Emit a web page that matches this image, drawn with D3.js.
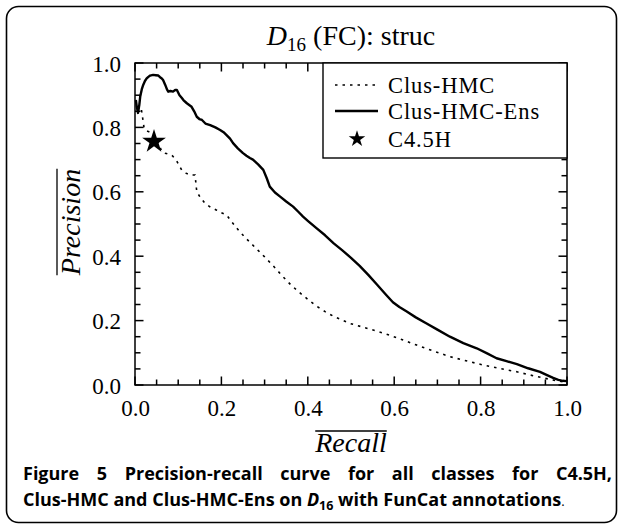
<!DOCTYPE html>
<html><head><meta charset="utf-8">
<script src="https://cdn.jsdelivr.net/npm/d3@7"></script>
<style>
html,body{margin:0;padding:0;background:#fff;}
svg{display:block;}
</style></head>
<body>
<svg id="chart" width="624" height="527"></svg>
<script>
// ---- data ----
const ensRecall = [0.002,0.004,0.007,0.010,0.012,0.016,0.019,0.023,0.027,0.031,0.035,0.042,0.048,0.054,0.058,0.062,0.065,0.070,0.074,0.077,0.082,0.088,0.093,0.097,0.103,0.108,0.112,0.120,0.127,0.131,0.137,0.143,0.149,0.155,0.163,0.174,0.186,0.197,0.205,0.212,0.220,0.227,0.238,0.250,0.258,0.266,0.273,0.285,0.297,0.305,0.312,0.324,0.336,0.350,0.366,0.378,0.389,0.400,0.420,0.440,0.460,0.480,0.500,0.520,0.540,0.560,0.580,0.597,0.612,0.629,0.650,0.675,0.700,0.729,0.760,0.791,0.815,0.837,0.860,0.884,0.910,0.9375,0.955,0.968,0.980,0.990,1.000];
const ensPrecision = [0.885,0.865,0.845,0.870,0.895,0.920,0.932,0.944,0.952,0.957,0.961,0.963,0.962,0.961,0.956,0.952,0.947,0.932,0.918,0.911,0.913,0.911,0.916,0.916,0.900,0.892,0.885,0.875,0.868,0.864,0.850,0.833,0.826,0.823,0.812,0.807,0.800,0.792,0.785,0.776,0.765,0.751,0.735,0.720,0.712,0.705,0.700,0.685,0.668,0.642,0.616,0.598,0.585,0.570,0.554,0.538,0.523,0.510,0.487,0.465,0.440,0.418,0.395,0.370,0.342,0.312,0.282,0.257,0.242,0.228,0.210,0.191,0.172,0.150,0.130,0.114,0.098,0.083,0.074,0.065,0.052,0.041,0.030,0.022,0.016,0.013,0.012];
const hmcRecall = [0.015,0.017,0.019,0.021,0.026,0.031,0.040,0.050,0.056,0.062,0.070,0.085,0.095,0.102,0.108,0.118,0.127,0.139,0.143,0.150,0.162,0.175,0.189,0.200,0.212,0.225,0.240,0.255,0.270,0.285,0.300,0.320,0.340,0.360,0.380,0.400,0.420,0.440,0.460,0.480,0.498,0.540,0.575,0.610,0.652,0.690,0.729,0.770,0.806,0.845,0.884,0.915,0.945,0.970,0.990,1.000];
const hmcPrecision = [0.854,0.835,0.818,0.798,0.790,0.787,0.782,0.765,0.745,0.725,0.720,0.714,0.700,0.682,0.668,0.658,0.652,0.652,0.600,0.585,0.564,0.552,0.543,0.535,0.528,0.505,0.480,0.458,0.438,0.418,0.398,0.370,0.340,0.312,0.288,0.266,0.245,0.228,0.213,0.201,0.191,0.175,0.161,0.145,0.124,0.106,0.088,0.074,0.062,0.051,0.041,0.031,0.022,0.015,0.010,0.008];
const c45Recall = [0.044];
const c45Precision = [0.756];
const seriesNames = ["Clus-HMC","Clus-HMC-Ens","C4.5H"];
const majorTicks = [0.0,0.2,0.4,0.6,0.8,1.0];
const minorTicks = [0.05,0.1,0.15,0.25,0.3,0.35,0.45,0.5,0.55,0.65,0.7,0.75,0.85,0.9,0.95];

// ---- layout ----
const svg = d3.select("#chart");
const L=135, R=567, T=63, B=385;
const xs = d3.scaleLinear().domain([0,1]).range([L,R]);
const ys = d3.scaleLinear().domain([0,1]).range([B,T]);
const serif = "'Liberation Serif', 'DejaVu Serif', serif";

// outer rounded frame
svg.append("rect").attr("x",6.5).attr("y",6.5).attr("width",610).attr("height",516)
  .attr("rx",12).attr("ry",12).attr("fill","none").attr("stroke","#000").attr("stroke-width",1.6);

// title
const title = svg.append("text").attr("x",351).attr("y",45).attr("text-anchor","middle")
  .attr("font-family",serif).attr("font-size",28);
title.append("tspan").attr("font-style","italic").text("D");
title.append("tspan").attr("font-size",19).attr("dy",6).text("16");
title.append("tspan").attr("dy",-6).text(" (FC): struc");

// lines
const line = d3.line().x(d=>xs(d[0])).y(d=>ys(d[1]));
const ensData = ensRecall.map((r,i)=>[r,ensPrecision[i]]);
const hmcData = hmcRecall.map((r,i)=>[r,hmcPrecision[i]]);
svg.append("path").datum(hmcData).attr("d",line).attr("fill","none").attr("stroke","#000")
  .attr("stroke-width",1.6).attr("stroke-dasharray","2.5,5");
svg.append("path").datum(ensData).attr("d",line).attr("fill","none").attr("stroke","#000")
  .attr("stroke-width",2.4).attr("stroke-linejoin","round");
svg.selectAll(".star").data(c45Recall.map((r,i)=>[r,c45Precision[i]])).join("path")
  .attr("class","star").attr("d",d3.symbol(d3.symbolStar,175))
  .attr("transform",d=>`translate(${xs(d[0])},${ys(d[1])})`).attr("fill","#000");

// plot frame
svg.append("rect").attr("x",L).attr("y",T).attr("width",R-L).attr("height",B-T)
  .attr("fill","none").attr("stroke","#000").attr("stroke-width",1.5);

// ticks (inward, all four sides), drawn from the scales
function addTicks(vals, len){
  const g = svg.append("g").attr("fill","#000");
  g.selectAll(".tb").data(vals).join("rect").attr("class","tb")
    .attr("x",d=>xs(d)-0.75).attr("y",B-len).attr("width",1.5).attr("height",len);
  g.selectAll(".tt").data(vals).join("rect").attr("class","tt")
    .attr("x",d=>xs(d)-0.75).attr("y",T).attr("width",1.5).attr("height",len);
  g.selectAll(".tl").data(vals).join("rect").attr("class","tl")
    .attr("x",L).attr("y",d=>ys(d)-0.75).attr("width",len).attr("height",1.5);
  g.selectAll(".tr").data(vals).join("rect").attr("class","tr")
    .attr("x",R-len).attr("y",d=>ys(d)-0.75).attr("width",len).attr("height",1.5);
}
addTicks(minorTicks,5.5);
addTicks(majorTicks,8.5);

// tick labels via axes
function fmt(d){return d3.format(".1f")(d);}
const xb = svg.append("g").attr("transform",`translate(0,${B})`)
  .call(d3.axisBottom(xs).tickValues(majorTicks).tickSize(0).tickPadding(14).tickFormat(fmt));
const yl = svg.append("g").attr("transform",`translate(${L},0)`)
  .call(d3.axisLeft(ys).tickValues(majorTicks).tickSize(0).tickPadding(14).tickFormat(fmt));
xb.select(".domain").remove();
yl.select(".domain").remove();
xb.selectAll(".tick line").remove();
yl.selectAll(".tick line").remove();
svg.selectAll(".tick text").attr("font-size",23).attr("fill","#000").attr("font-family",serif);
xb.selectAll(".tick text").attr("dy",0).attr("y",31);
yl.selectAll(".tick text").attr("dy","0.35em").attr("x",-14);

// legend
const lg = svg.append("g");
lg.append("rect").attr("x",323).attr("y",T).attr("width",R-323).attr("height",95)
  .attr("fill","#fff").attr("stroke","#000").attr("stroke-width",1.4);
const legY = [85,111,139];
lg.append("line").attr("x1",335).attr("x2",378).attr("y1",legY[0]).attr("y2",legY[0])
  .attr("stroke","#000").attr("stroke-width",1.6).attr("stroke-dasharray","2.5,5");
lg.append("line").attr("x1",335).attr("x2",378).attr("y1",legY[1]).attr("y2",legY[1])
  .attr("stroke","#000").attr("stroke-width",2.4);
lg.append("path").attr("d",d3.symbol(d3.symbolStar,85)).attr("transform",`translate(357,${legY[2]})`);
lg.selectAll(".lt").data(seriesNames).join("text").attr("class","lt")
  .attr("x",388).attr("y",(d,i)=>legY[i]+8).attr("font-family",serif).attr("font-size",22.5)
  .attr("letter-spacing",0.9).text(d=>d);

// axis titles
const xt = svg.append("text").attr("x",351).attr("y",452).attr("text-anchor","middle")
  .attr("font-family",serif).attr("font-style","italic").attr("font-size",28).text("Recall");
const xw = xt.node().getComputedTextLength();
svg.append("line").attr("x1",351-xw/2).attr("x2",351+xw/2).attr("y1",431).attr("y2",431).attr("stroke","#000").attr("stroke-width",1.3);
const yt = svg.append("text").attr("transform","translate(80,222) rotate(-90)").attr("text-anchor","middle")
  .attr("font-family",serif).attr("font-style","italic").attr("font-size",28).text("Precision");
const yw = yt.node().getComputedTextLength();
svg.append("line").attr("x1",57).attr("x2",57).attr("y1",222-yw/2).attr("y2",222+yw/2).attr("stroke","#000").attr("stroke-width",1.3);

// caption
const capFont = "'Open Sans', 'DejaVu Sans', sans-serif";
const capSize = 18;
const words1 = ["Figure","5","Precision-recall","curve","for","all","classes","for","C4.5H,"];
const cx0 = 23, cx1 = 612;
const tmp = svg.append("g").attr("font-family",capFont).attr("font-weight","bold").attr("font-size",capSize);
const nodes = words1.map(w=>tmp.append("text").attr("y",480).text(w));
const widths = nodes.map(n=>n.node().getComputedTextLength());
const gap = (cx1-cx0-d3.sum(widths))/(words1.length-1);
let cx = cx0;
nodes.forEach((n,i)=>{n.attr("x",cx); cx += widths[i]+gap;});
const l2 = svg.append("text").attr("x",cx0).attr("y",506).attr("font-family",capFont).attr("font-size",capSize).attr("font-weight","bold");
l2.append("tspan").text("Clus-HMC and Clus-HMC-Ens on ");
l2.append("tspan").attr("font-style","italic").text("D");
l2.append("tspan").attr("font-size",12.5).attr("dy",3.5).text("16");
l2.append("tspan").attr("dy",-3.5).text(" with FunCat annotations");
l2.append("tspan").attr("font-weight","normal").attr("font-size",13).text(".");
</script>
</body></html>
